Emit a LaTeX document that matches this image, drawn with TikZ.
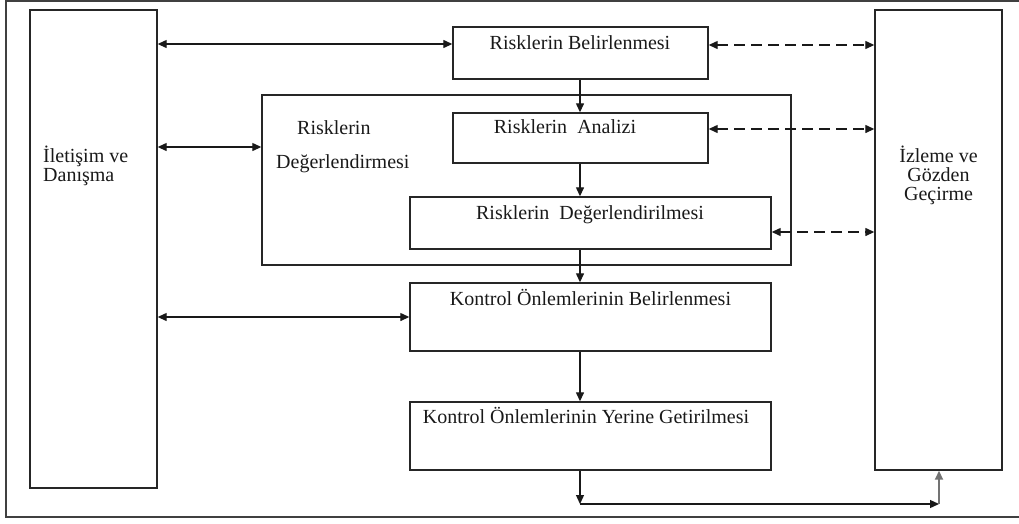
\documentclass[tikz,border=0pt]{standalone}
\usepackage{fontspec}
\setmainfont{Liberation Serif}
\usetikzlibrary{arrows.meta}
\begin{document}
\begin{tikzpicture}[x=1pt,y=-1pt,
  box/.style={draw=black!85,line width=1.4pt,inner sep=0pt,fill=none},
  lbl/.style={font=\fontsize{20}{19}\selectfont,inner sep=0pt,anchor=base,text=black!90},
  lblw/.style={lbl,anchor=base west},
  conn/.style={line width=1.3pt,draw=black!90,{Triangle[length=9pt,width=8pt]}-{Triangle[length=9pt,width=8pt]}},
  dconn/.style={conn,dash pattern=on 11pt off 6pt},
  oneway/.style={line width=1.3pt,draw=black!90,-{Triangle[length=9pt,width=8pt]}}
]
\useasboundingbox (0,0) rectangle (1019,523);
\draw[line width=1.5pt,draw=black!75] (1030,1) -- (6,1) -- (6,517) -- (1030,517);

\node[box,minimum width=127,minimum height=478] (ilet) at (93.5,249) {};
\node[box,minimum width=127,minimum height=460] (izl) at (938.5,240) {};
\node[box,minimum width=255,minimum height=52] (bel) at (580.5,53) {};
\node[box,minimum width=529,minimum height=170] (deg) at (526.5,180) {};
\node[box,minimum width=255,minimum height=50] (ana) at (580.5,138) {};
\node[box,minimum width=361,minimum height=52] (degl) at (590.5,223) {};
\node[box,minimum width=361,minimum height=68] (kbel) at (590.5,317) {};
\node[box,minimum width=361,minimum height=68] (yer) at (590.5,436) {};

\node[lblw] (t1a) at (43,162) {İletişim ve};
\node[lblw] (t1b) at (43,181) {Danışma};
\node[lbl] (t2a) at (938.5,162) {İzleme ve};
\node[lbl] (t2b) at (938.5,181) {Gözden};
\node[lbl] (t2c) at (938.5,200) {Geçirme};
\node[lbl] (t3) at (580,49) {Risklerin Belirlenmesi};
\node[lblw] (t4a) at (297,134) {Risklerin};
\node[lblw] (t4b) at (276,168) {Değerlendirmesi};
\node[lbl] (t5) at (565,133) {Risklerin\ \ Analizi};
\node[lbl] (t6) at (590,219) {Risklerin\ \ Değerlendirilmesi};
\node[lbl] (t7) at (590.5,305) {Kontrol Önlemlerinin Belirlenmesi};
\node[lbl] (t8) at (586,423) {Kontrol Önlemlerinin Yerine Getirilmesi};

% left connectors
\draw[conn] (ilet.east |- {(0,44)}) -- (bel.west |- {(0,44)});
\draw[conn] (ilet.east |- {(0,147)}) -- (deg.west |- {(0,147)});
\draw[conn] (ilet.east |- kbel.west) -- (kbel.west);
% right dashed connectors
\draw[dconn] (bel.east |- {(0,45)}) -- (izl.west |- {(0,45)});
\draw[dconn] (ana.east |- {(0,129)}) -- (izl.west |- {(0,129)});
\draw[dconn] (degl.east |- {(0,232)}) -- (izl.west |- {(0,232)});
% vertical flow
\coordinate (vx) at (580,0);
\draw[oneway] (bel.south -| vx) -- (ana.north -| vx);
\draw[oneway] (ana.south -| vx) -- (degl.north -| vx);
\draw[oneway] (degl.south -| vx) -- (kbel.north -| vx);
\draw[oneway] (kbel.south -| vx) -- (yer.north -| vx);
\coordinate (c1) at (580,504);
\coordinate (c2) at (939,504);
\draw[oneway] (yer.south -| c1) -- (c1);
\draw[oneway] (c1) -- (c2);
\draw[oneway,draw=black!55,line width=1.8pt] (c2) -- (izl.south -| c2);
\end{tikzpicture}
\end{document}
